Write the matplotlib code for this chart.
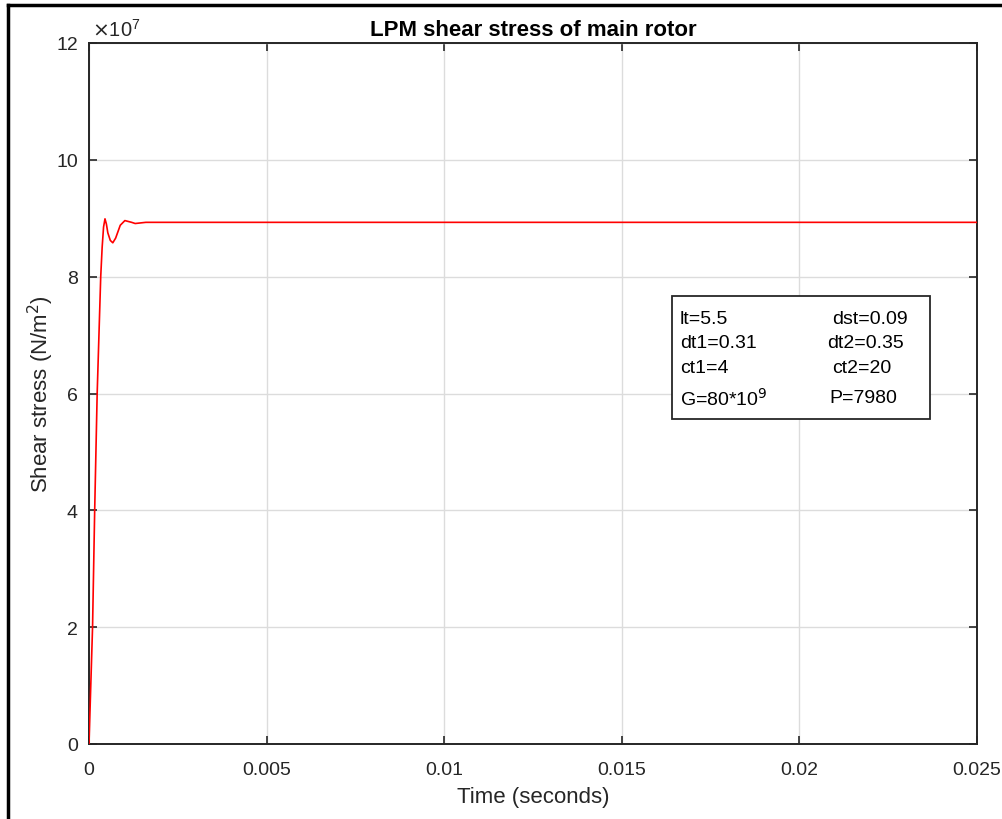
import matplotlib
matplotlib.use("Agg")
import matplotlib.pyplot as plt
from matplotlib.lines import Line2D
from matplotlib.patches import Rectangle

plt.rcParams['font.family'] = ['Liberation Sans', 'DejaVu Sans']

# Data (time in s, shear stress in 1e7 N/m^2)
time_s = [0.0, 0.0001, 0.00016, 0.00023, 0.00033, 0.00037, 0.00041, 0.00045,
          0.00049, 0.00053, 0.00060, 0.00067, 0.00075, 0.00088, 0.00101,
          0.0012, 0.0013, 0.0016, 0.025]
stress_e7 = [0.0, 2.0, 4.0, 6.0, 8.0, 8.5, 8.85, 8.99,
             8.9, 8.75, 8.62, 8.58, 8.66, 8.88, 8.96,
             8.93, 8.91, 8.93, 8.93]

x_ticks = [0, 0.005, 0.01, 0.015, 0.02, 0.025]
x_labels = ["0", "0.005", "0.01", "0.015", "0.02", "0.025"]
y_ticks = [0, 2, 4, 6, 8, 10, 12]

box_left = ["lt=5.5", "dt1=0.31", "ct1=4", r"G=80*10$^{9}$"]
box_right = ["dst=0.09", "dt2=0.35", "ct2=20", "P=7980"]

W, H = 1003, 820
fig = plt.figure(figsize=(W / 100, H / 100), dpi=100)
fig.patch.set_facecolor("white")
ax = fig.add_axes([89 / W, 1 - 745 / H, (977 - 89) / W, (745 - 44) / H])

ax.plot(time_s, [v * 1e7 for v in stress_e7], color="#ff0000", lw=1.2, zorder=3)

ax.set_xlim(0, 0.025)
ax.set_ylim(0, 12e7)
ax.set_xticks(x_ticks)
ax.set_xticklabels(x_labels)
ax.set_yticks([v * 1e7 for v in y_ticks])
ax.set_yticklabels([str(v) for v in y_ticks])
ax.grid(True, color="#dcdcdc", lw=1.0, zorder=0)
ax.tick_params(direction="in", length=6, width=1.2, top=True, right=True,
               labelsize=14, colors="#262626")
ax.tick_params(axis="x", pad=12)
ax.tick_params(axis="y", pad=8)
for s in ax.spines.values():
    s.set_color("#262626")
    s.set_linewidth(1.4)

ax.set_xlabel("Time (seconds)", fontsize=16, color="#262626", labelpad=6)
ax.set_ylabel(r"Shear stress (N/m$^2$)", fontsize=16, color="#262626", labelpad=0)
ax.set_title("LPM shear stress of main rotor", fontsize=16, fontweight="bold",
             color="black", pad=6)

fig.text(92 / W, 1 - 41 / H, r"$\times\mathregular{10^{7}}$", fontsize=14.5,
         color="#262626", ha="left", va="bottom")

# Annotation box
fig.patches.append(Rectangle((672 / W, 1 - 420 / H), (930 - 672) / W, (420 - 297) / H,
                             transform=fig.transFigure, facecolor="white",
                             edgecolor="#262626", lw=1.3, zorder=5))
rows_y = [320, 344, 369, 399]
right_x = [832, 827, 832, 829]
for yy, lt, rt, rx in zip(rows_y, box_left, box_right, right_x):
    fig.text(680 / W, 1 - yy / H, lt, fontsize=14, color="black",
             ha="left", va="center", zorder=6)
    fig.text(rx / W, 1 - yy / H, rt, fontsize=14, color="black",
             ha="left", va="center", zorder=6)

# Outer frame (left and top edges only visible)
fig.add_artist(Line2D([8 / W, 8 / W], [0, 1 - 6 / H], transform=fig.transFigure,
                      color="black", lw=2.5))
fig.add_artist(Line2D([8 / W, 1], [1 - 6 / H, 1 - 6 / H], transform=fig.transFigure,
                      color="black", lw=2.5))

fig.savefig("out.png", dpi=100, facecolor="white")
